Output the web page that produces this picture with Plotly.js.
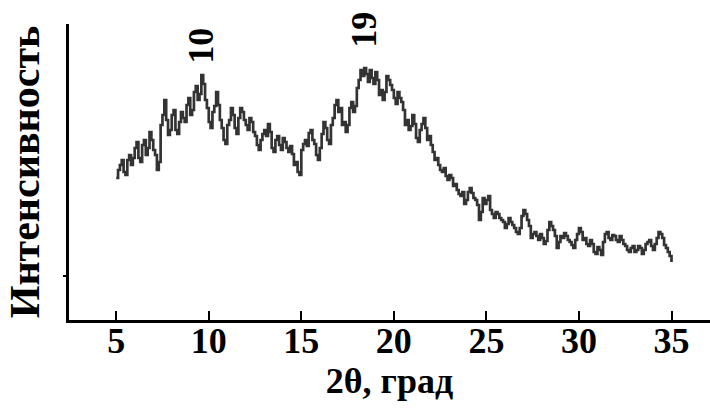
<!DOCTYPE html>
<html>
<head>
<meta charset="utf-8">
<script src="https://cdn.plot.ly/plotly-3.0.1.min.js"></script>
<style>html,body{margin:0;padding:0;background:#fff;}#chart{width:710px;height:412px;}</style>
</head>
<body>
<div id="chart"></div>
<script>
// 2θ (deg), sampled every 0.1 deg from 5 to 35
var twoTheta = [];
for (var k = 0; k <= 300; k++) { twoTheta.push(+(5 + 0.1 * k).toFixed(1)); }

// Intensity (arbitrary units)
var intensity = [
  142,150,155,160,148,145,160,165,155,162,172,178,162,158,175,180,165,172,188,180,
  170,165,150,158,195,205,220,200,185,190,205,210,190,186,198,208,202,198,215,222,
  205,210,228,234,220,226,245,236,220,212,198,192,208,214,228,215,200,192,180,176,
  195,200,212,205,192,186,202,212,208,200,195,190,202,198,188,184,175,170,180,186,
  190,184,196,188,172,168,180,184,175,170,182,178,172,168,174,166,155,158,148,145,
  170,176,180,174,187,190,180,176,165,160,172,186,198,192,180,176,195,202,215,220,
  208,212,195,198,188,195,212,218,208,214,232,240,250,244,252,246,238,250,242,236,
  248,240,225,230,220,228,244,240,235,230,222,216,228,222,218,210,195,200,190,194,
  205,196,182,178,190,196,202,192,180,184,175,168,160,162,155,150,148,152,144,140,
  145,142,134,136,130,126,124,128,116,120,128,132,127,122,120,115,100,108,122,116,
  120,124,110,106,102,108,106,102,100,98,92,96,102,98,95,92,88,86,92,104,
  110,106,100,94,82,86,88,84,80,86,82,76,79,90,98,94,90,84,72,78,
  84,82,87,84,80,78,75,72,80,86,92,88,80,82,76,74,80,76,68,66,
  73,70,65,78,86,88,82,80,85,84,80,78,84,80,76,74,70,68,72,74,
  68,70,74,72,66,70,76,78,80,74,70,76,82,88,86,82,75,72,68,64,
  58
];

var xTickVals = [5, 10, 15, 20, 25, 30, 35];
var xTickText = ['5', '10', '15', '20', '25', '30', '35'];
var peakLabels = ['10', '19'];
var peakX = [9.57, 18.38];
var peakY = [274, 290];

var serif = '"Liberation Serif", "Times New Roman", serif';

var trace = {
  x: twoTheta,
  y: intensity,
  type: 'scatter',
  mode: 'lines',
  line: {color: '#333333', width: 2.7, shape: 'hv'},
  hoverinfo: 'skip'
};

var annotations = peakLabels.map(function (t, i) {
  return {
    x: peakX[i], y: peakY[i], xref: 'x', yref: 'y',
    text: '<b>' + t + '</b>', showarrow: false, textangle: -90,
    font: {family: serif, size: 36, color: '#000'}
  };
});

var layout = {
  width: 710, height: 412,
  margin: {l: 69, r: 0, t: 24, b: 92},
  paper_bgcolor: '#fff', plot_bgcolor: '#fff',
  showlegend: false,
  xaxis: {
    range: [2.45, 37.08],
    showgrid: false, zeroline: false,
    showline: true, linecolor: '#000', linewidth: 3,
    tickmode: 'array', tickvals: xTickVals, ticktext: xTickText,
    ticks: 'inside', ticklen: 9, tickwidth: 2, tickcolor: '#000',
    ticklabelstandoff: -13,
    tickfont: {family: serif, size: 36, color: '#000', weight: 'bold'},
    title: {text: '<b>2θ, град</b>', font: {family: serif, size: 36, color: '#000'}, standoff: 4}
  },
  yaxis: {
    range: [0, 296],
    showgrid: false, zeroline: false,
    showline: true, linecolor: '#000', linewidth: 3,
    tickmode: 'array', tickvals: [44], ticktext: [''],
    ticks: 'outside', ticklen: 3, tickwidth: 2, tickcolor: '#000',
    showticklabels: false,
    title: {text: '<b>Интенсивность</b>', font: {family: serif, size: 42, color: '#000'}, standoff: 11}
  },
  annotations: annotations
};

Plotly.newPlot('chart', [trace], layout, {displayModeBar: false, staticPlot: true});
</script>
</body>
</html>
